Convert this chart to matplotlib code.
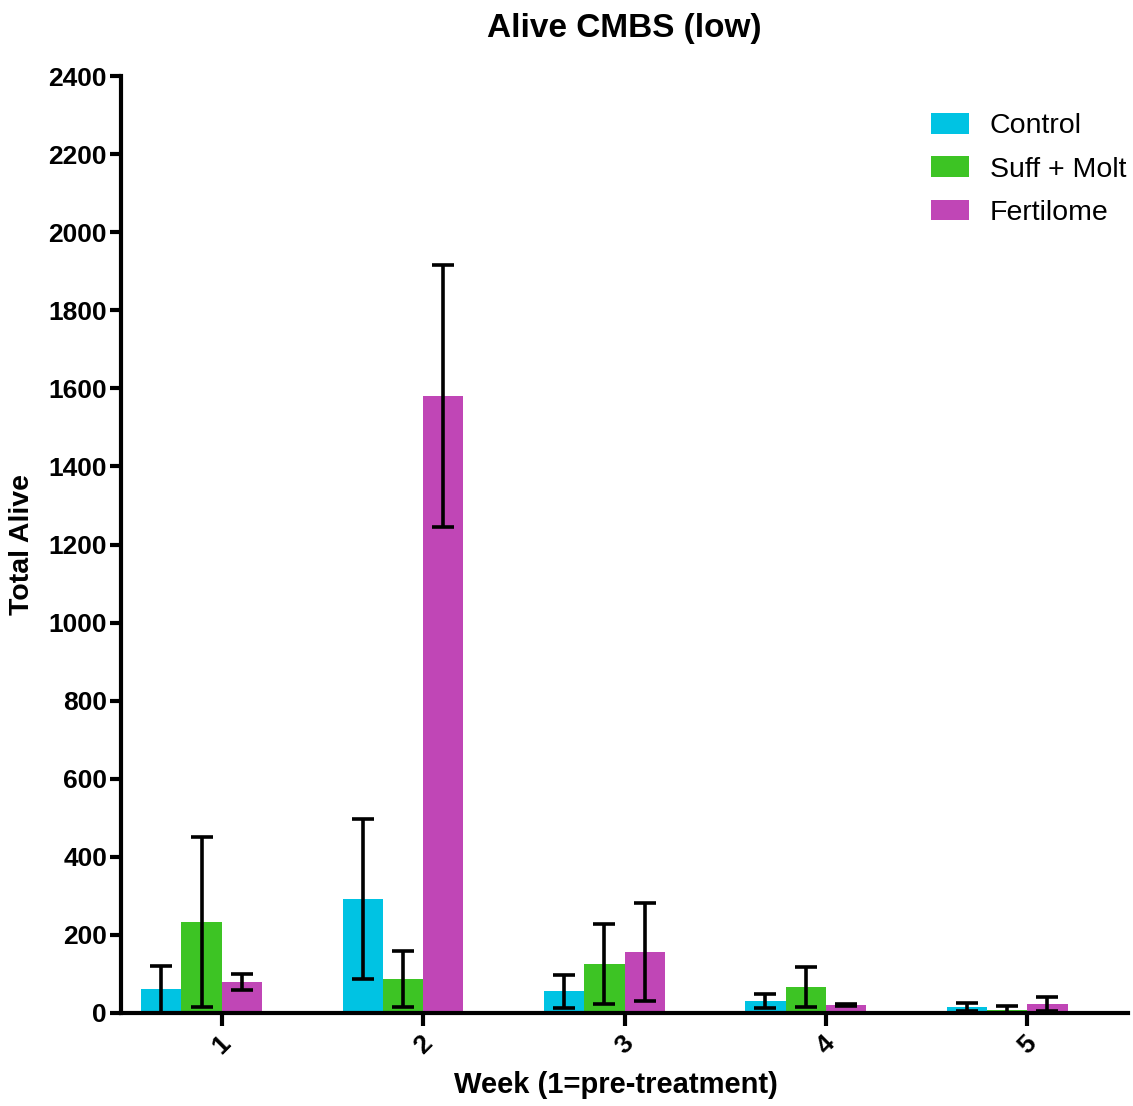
import matplotlib
matplotlib.use("Agg")
import matplotlib.pyplot as plt
import numpy as np

plt.rcParams["font.family"] = ["Liberation Sans", "DejaVu Sans"]

weeks = ["1", "2", "3", "4", "5"]
groups = ["Control", "Suff + Molt", "Fertilome"]
colors = ["#00C3E3", "#3DC424", "#C046B6"]

control_mean = [61, 292, 56, 31, 15]
control_err = [60, 206, 42, 18, 11]
suff_mean = [233, 87, 125, 67, 8]
suff_err = [218, 72, 102, 52, 9]
fert_mean = [79, 1580, 156, 20, 23]
fert_err = [21, 336, 125, 2, 18]

means = [control_mean, suff_mean, fert_mean]
errs = [control_err, suff_err, fert_err]

W, H = 1133, 1106
fig = plt.figure(figsize=(W / 100, H / 100), dpi=100)
ax = fig.add_axes([121 / W, (H - 1013) / H, (1128 - 121) / W, (1013 - 76) / H])

x = np.arange(1, len(weeks) + 1)
width = 0.2
offsets = [-0.3, -0.1, 0.1]
for m, e, c, lab, off in zip(means, errs, colors, groups, offsets):
    ax.bar(x + off, m, width=width, color=c, label=lab, linewidth=0, zorder=2)
    ax.errorbar(x + off, m, yerr=e, fmt="none", ecolor="black", elinewidth=2.6,
                capsize=8, capthick=2.6, zorder=3, clip_on=False)

ax.set_xlim(0.5, 5.5)
ax.set_ylim(0, 2400)
ax.set_yticks(np.arange(0, 2401, 200))
ax.set_xticks(x)
ax.set_xticklabels(weeks, rotation=45, ha="center", fontsize=19, fontweight="bold")
for lbl in ax.get_yticklabels():
    lbl.set_fontsize(19)
    lbl.set_fontweight("bold")

for s in ["top", "right"]:
    ax.spines[s].set_visible(False)
for s in ["left", "bottom"]:
    ax.spines[s].set_linewidth(3)
ax.tick_params(axis="y", length=8, width=3, pad=2)
ax.tick_params(axis="x", length=9, width=3, pad=4)

ax.set_title("Alive CMBS (low)", fontsize=24, fontweight="bold", pad=28)
ax.set_ylabel("Total Alive", fontsize=20.5, fontweight="bold")
ax.yaxis.set_label_coords(-0.085, 0.5)
ax.set_xlabel("Week (1=pre-treatment)", fontsize=21, fontweight="bold")
ax.xaxis.set_label_coords(0.4916, -0.062)

ax.legend(loc="upper left", bbox_to_anchor=(931 / W, 1 - 113 / H), bbox_transform=fig.transFigure,
          frameon=False, fontsize=20.5, handlelength=1.33, handleheight=0.74,
          handletextpad=0.74, labelspacing=0.6, borderaxespad=0, borderpad=0)

fig.savefig("out.png", dpi=100)
